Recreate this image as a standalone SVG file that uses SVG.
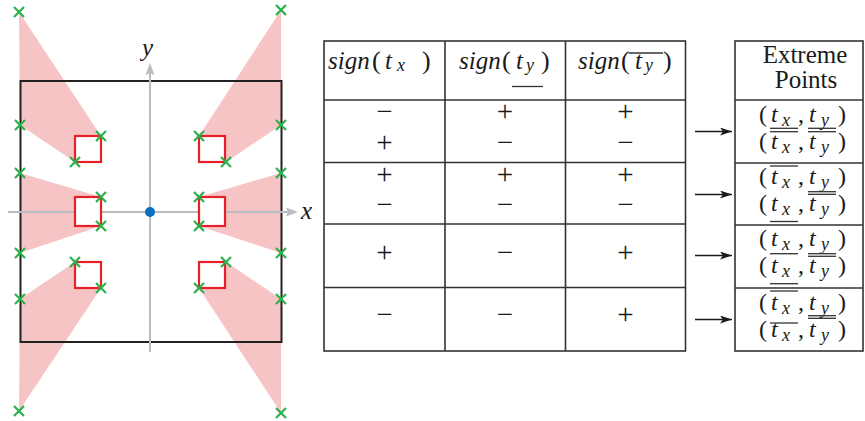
<svg xmlns="http://www.w3.org/2000/svg" width="865" height="421" viewBox="0 0 865 421">
<defs>
<style>
.pink{fill:#f7c4c6;stroke:none}
.sq{fill:#fff;stroke:#e42128;stroke-width:2.2}
.mk{fill:none;stroke:#2bb04a;stroke-width:2.2}
.ax{stroke:#b9bcc0;stroke-width:2;fill:none}
.axh{fill:#b9bcc0}
.rm{font-family:"Liberation Serif",serif;font-size:26px;fill:#1a1a1a}
.it{font-family:"Liberation Serif",serif;font-style:italic;font-size:25px;fill:#1a1a1a}
.sub{font-family:"Liberation Serif",serif;font-style:italic;font-size:18px;fill:#1a1a1a}
.pm{font-family:"Liberation Serif",serif;font-size:29px;fill:#1a1a1a;text-anchor:middle}
.e{font-family:"Liberation Serif",serif;font-size:24px;fill:#1a1a1a}
.ei{font-family:"Liberation Serif",serif;font-style:italic;font-size:24px;fill:#1a1a1a}
.es{font-family:"Liberation Serif",serif;font-style:italic;font-size:18px;fill:#1a1a1a}
.hd{font-family:"Liberation Serif",serif;font-size:25px;fill:#1a1a1a;text-anchor:middle}
.grid{stroke:#333;stroke-width:1.6;fill:none}
.bar{stroke:#333;stroke-width:1.3}
.conn{stroke:#1a1a1a;stroke-width:1.4;fill:none}
</style>
<path id="xm" class="mk" d="M-5,-5 L5,5 M-5,5 L5,-5"/>
<marker id="ah" markerWidth="13" markerHeight="9" refX="12" refY="4" orient="auto" markerUnits="userSpaceOnUse">
<path d="M0,0 L12,4 L0,8 L3,4 z" fill="#1a1a1a"/>
</marker>
</defs>

<g id="plot">
<polygon class="pink" points="19,12 101,136 75,162 20,125"/>
<polygon class="pink" points="281,10 199,136 226,162 281,125"/>
<polygon class="pink" points="20,173 101,197 101,226 20,253"/>
<polygon class="pink" points="281,173 199,197 199,226 281,253"/>
<polygon class="pink" points="20,299 75,262 101,288 19,411"/>
<polygon class="pink" points="281,299 226,262 199,288 281,413"/>
<rect x="20.5" y="81" width="261" height="261" fill="none" stroke="#222" stroke-width="2"/>
<line class="ax" x1="150" y1="352" x2="150" y2="72"/>
<polygon class="axh" points="150,63 145.5,75 150,73 154.5,75"/>
<line class="ax" x1="8" y1="212" x2="289" y2="212"/>
<polygon class="axh" points="298,212 286,207.5 288,212 286,216.5"/>
<text class="it" x="142" y="56" font-size="28">y</text>
<text class="it" x="301" y="219" font-size="28">x</text>
<rect class="sq" x="75" y="136" width="26" height="26"/>
<rect class="sq" x="199" y="136" width="26" height="26"/>
<rect class="sq" x="75" y="197" width="26" height="29"/>
<rect class="sq" x="199" y="197" width="26" height="29"/>
<rect class="sq" x="75" y="262" width="26" height="26"/>
<rect class="sq" x="199" y="262" width="26" height="26"/>
<circle cx="150" cy="212" r="5" fill="#0b6fc2"/>
<use href="#xm" x="19" y="12"/>
<use href="#xm" x="281" y="10"/>
<use href="#xm" x="20" y="125"/>
<use href="#xm" x="20" y="173"/>
<use href="#xm" x="101" y="136"/>
<use href="#xm" x="75" y="162"/>
<use href="#xm" x="199" y="136"/>
<use href="#xm" x="226" y="162"/>
<use href="#xm" x="281" y="125"/>
<use href="#xm" x="281" y="173"/>
<use href="#xm" x="101" y="197"/>
<use href="#xm" x="101" y="226"/>
<use href="#xm" x="199" y="197"/>
<use href="#xm" x="199" y="226"/>
<use href="#xm" x="20" y="253"/>
<use href="#xm" x="20" y="299"/>
<use href="#xm" x="281" y="253"/>
<use href="#xm" x="281" y="299"/>
<use href="#xm" x="75" y="262"/>
<use href="#xm" x="101" y="288"/>
<use href="#xm" x="226" y="262"/>
<use href="#xm" x="199" y="288"/>
<use href="#xm" x="19" y="411"/>
<use href="#xm" x="281" y="413"/>
</g>

<g id="sign-table">
<rect class="grid" x="324" y="41" width="361.5" height="310"/>
<line class="grid" x1="445" y1="41" x2="445" y2="351"/>
<line class="grid" x1="565.5" y1="41" x2="565.5" y2="351"/>
<line class="grid" x1="324" y1="100" x2="685.5" y2="100"/>
<line class="grid" x1="324" y1="162.5" x2="685.5" y2="162.5"/>
<line class="grid" x1="324" y1="224" x2="685.5" y2="224"/>
<line class="grid" x1="324" y1="287.5" x2="685.5" y2="287.5"/>
<text class="it" x="328" y="68.5">sign</text>
<text class="rm" x="372" y="68.5">(</text>
<text class="it" x="385" y="68.5">t</text>
<text class="sub" x="397" y="71">x</text>
<text class="rm" x="422" y="68.5">)</text>
<text class="it" x="459" y="68.5">sign</text>
<text class="rm" x="502" y="68.5">(</text>
<text class="it" x="516" y="68.5">t</text>
<text class="sub" x="526" y="71">y</text>
<text class="rm" x="541" y="68.5">)</text>
<line class="bar" x1="512" y1="86.5" x2="543" y2="86.5"/>
<text class="it" x="578" y="68.5">sign</text>
<text class="rm" x="621" y="68.5">(</text>
<text class="it" x="635" y="68.5">t</text>
<text class="sub" x="645" y="71">y</text>
<text class="rm" x="663" y="68.5">)</text>
<line class="bar" x1="629" y1="53" x2="663" y2="53"/>
<text class="pm" x="384.5" y="121">−</text>
<text class="pm" x="505" y="121">+</text>
<text class="pm" x="625.5" y="121">+</text>
<text class="pm" x="384.5" y="152">+</text>
<text class="pm" x="505" y="152">−</text>
<text class="pm" x="625.5" y="152">−</text>
<text class="pm" x="384.5" y="183.5">+</text>
<text class="pm" x="505" y="183.5">+</text>
<text class="pm" x="625.5" y="183.5">+</text>
<text class="pm" x="384.5" y="213.5">−</text>
<text class="pm" x="505" y="213.5">−</text>
<text class="pm" x="625.5" y="213.5">−</text>
<text class="pm" x="384.5" y="262">+</text>
<text class="pm" x="505" y="262">−</text>
<text class="pm" x="625.5" y="262">+</text>
<text class="pm" x="384.5" y="323.5">−</text>
<text class="pm" x="505" y="323.5">−</text>
<text class="pm" x="625.5" y="323.5">+</text>
</g>

<g id="extreme-table">
<rect class="grid" x="735" y="41" width="128" height="310"/>
<line class="grid" x1="735" y1="100" x2="863" y2="100"/>
<line class="grid" x1="735" y1="163" x2="863" y2="163"/>
<line class="grid" x1="735" y1="225" x2="863" y2="225"/>
<line class="grid" x1="735" y1="288" x2="863" y2="288"/>
<text class="hd" x="805" y="63">Extreme</text>
<text class="hd" x="806" y="88">Points</text>
<!-- row 1 -->
<text class="e" x="759" y="121.5">(</text><text class="ei" x="771" y="121.5">t</text><text class="es" x="782" y="125.5">x</text><text class="e" x="798" y="121.5">,</text><text class="ei" x="809" y="121.5">t</text><text class="es" x="821" y="125.5">y</text><text class="e" x="838" y="121.5">)</text>
<text class="e" x="759" y="148.5">(</text><text class="ei" x="771" y="148.5">t</text><text class="es" x="782" y="152.5">x</text><text class="e" x="798" y="148.5">,</text><text class="ei" x="809" y="148.5">t</text><text class="es" x="821" y="152.5">y</text><text class="e" x="838" y="148.5">)</text>
<line class="bar" x1="770" y1="128.3" x2="798" y2="128.3"/>
<line class="bar" x1="808" y1="128.3" x2="836" y2="128.3"/>
<line class="bar" x1="770" y1="131.7" x2="798" y2="131.7"/>
<line class="bar" x1="808" y1="131.7" x2="836" y2="131.7"/>
<!-- row 2 -->
<text class="e" x="759" y="183.5">(</text><text class="ei" x="771" y="183.5">t</text><text class="es" x="782" y="187.5">x</text><text class="e" x="798" y="183.5">,</text><text class="ei" x="809" y="183.5">t</text><text class="es" x="821" y="187.5">y</text><text class="e" x="838" y="183.5">)</text>
<text class="e" x="759" y="210.5">(</text><text class="ei" x="771" y="210.5">t</text><text class="es" x="782" y="214.5">x</text><text class="e" x="798" y="210.5">,</text><text class="ei" x="809" y="210.5">t</text><text class="es" x="821" y="214.5">y</text><text class="e" x="838" y="210.5">)</text>
<line class="bar" x1="770" y1="166" x2="798" y2="166"/>
<line class="bar" x1="808" y1="191.7" x2="836" y2="191.7"/>
<line class="bar" x1="808" y1="194.3" x2="836" y2="194.3"/>
<line class="bar" x1="770" y1="221.5" x2="798" y2="221.5"/>
<!-- row 3 -->
<text class="e" x="759" y="246">(</text><text class="ei" x="771" y="246">t</text><text class="es" x="782" y="250">x</text><text class="e" x="798" y="246">,</text><text class="ei" x="809" y="246">t</text><text class="es" x="821" y="250">y</text><text class="e" x="838" y="246">)</text>
<text class="e" x="759" y="273">(</text><text class="ei" x="771" y="273">t</text><text class="es" x="782" y="277">x</text><text class="e" x="798" y="273">,</text><text class="ei" x="809" y="273">t</text><text class="es" x="821" y="277">y</text><text class="e" x="838" y="273">)</text>
<line class="bar" x1="770" y1="253.7" x2="798" y2="253.7"/>
<line class="bar" x1="808" y1="253.7" x2="836" y2="253.7"/>
<line class="bar" x1="808" y1="256.3" x2="836" y2="256.3"/>
<line class="bar" x1="770" y1="283.7" x2="798" y2="283.7"/>
<!-- row 4 -->
<text class="e" x="759" y="309.5">(</text><text class="ei" x="771" y="309.5">t</text><text class="es" x="782" y="313.5">x</text><text class="e" x="798" y="309.5">,</text><text class="ei" x="809" y="309.5">t</text><text class="es" x="821" y="313.5">y</text><text class="e" x="838" y="309.5">)</text>
<text class="e" x="759" y="336.5">(</text><text class="ei" x="771" y="336.5">t</text><text class="es" x="782" y="340.5">x</text><text class="e" x="798" y="336.5">,</text><text class="ei" x="809" y="336.5">t</text><text class="es" x="821" y="340.5">y</text><text class="e" x="838" y="336.5">)</text>
<line class="bar" x1="770" y1="291" x2="798" y2="291"/>
<line class="bar" x1="808" y1="315.7" x2="836" y2="315.7"/>
<line class="bar" x1="808" y1="318.3" x2="836" y2="318.3"/>
<line class="bar" x1="770" y1="323" x2="798" y2="323"/>
</g>

<g id="connectors">
<line class="conn" x1="695" y1="131.5" x2="732" y2="131.5" marker-end="url(#ah)"/>
<line class="conn" x1="695" y1="194.5" x2="732" y2="194.5" marker-end="url(#ah)"/>
<line class="conn" x1="695" y1="255.5" x2="732" y2="255.5" marker-end="url(#ah)"/>
<line class="conn" x1="695" y1="319.5" x2="732" y2="319.5" marker-end="url(#ah)"/>
</g>
</svg>
